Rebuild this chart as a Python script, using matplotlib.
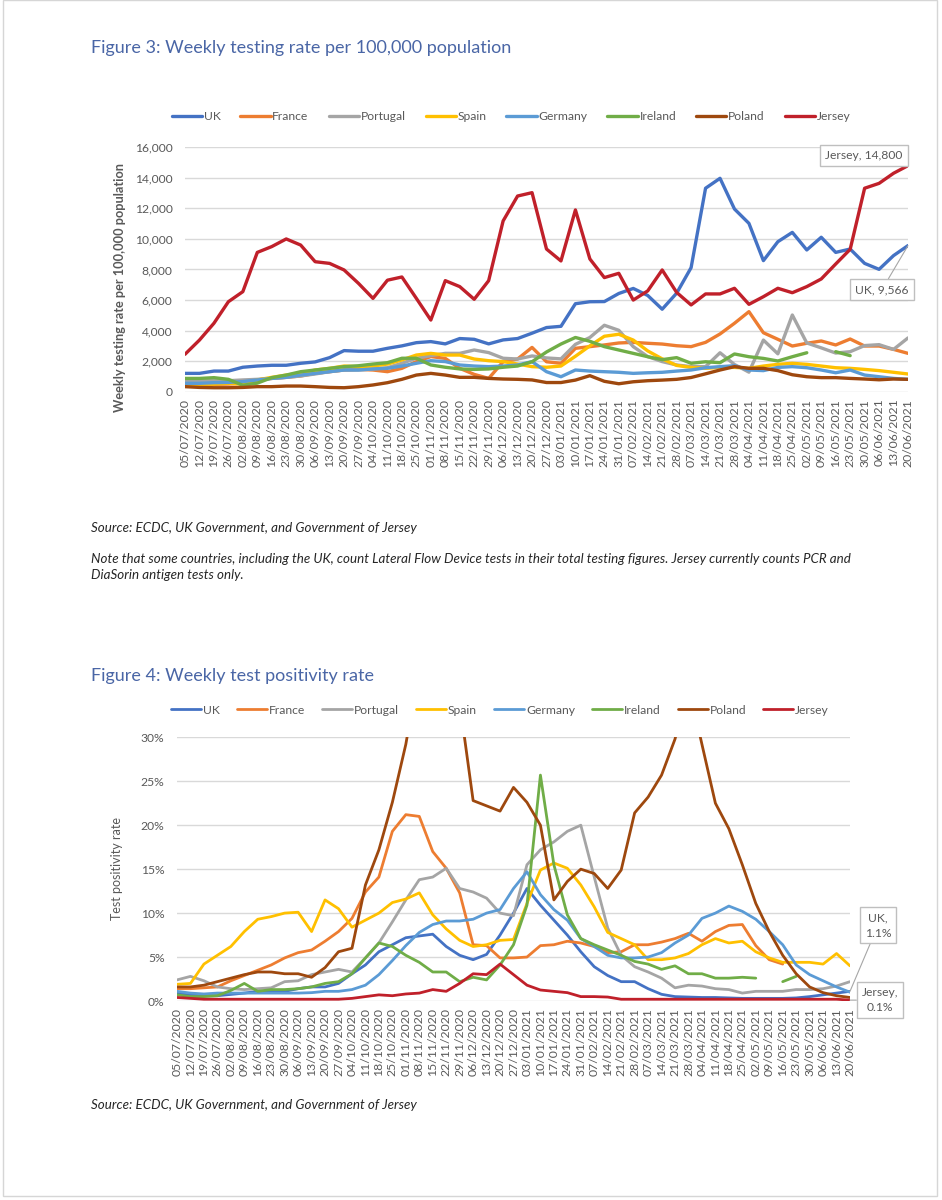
import numpy as np
import matplotlib
matplotlib.use("Agg")
from matplotlib import pyplot as plt
from matplotlib.patches import Rectangle
from matplotlib.ticker import FuncFormatter

W, H = 942, 1200
nan = np.nan

WEEKS = ["05/07/2020", "12/07/2020", "19/07/2020", "26/07/2020", "02/08/2020", "09/08/2020",
         "16/08/2020", "23/08/2020", "30/08/2020", "06/09/2020", "13/09/2020", "20/09/2020",
         "27/09/2020", "04/10/2020", "11/10/2020", "18/10/2020", "25/10/2020", "01/11/2020",
         "08/11/2020", "15/11/2020", "22/11/2020", "29/11/2020", "06/12/2020", "13/12/2020",
         "20/12/2020", "27/12/2020", "03/01/2021", "10/01/2021", "17/01/2021", "24/01/2021",
         "31/01/2021", "07/02/2021", "14/02/2021", "21/02/2021", "28/02/2021", "07/03/2021",
         "14/03/2021", "21/03/2021", "28/03/2021", "04/04/2021", "11/04/2021", "18/04/2021",
         "25/04/2021", "02/05/2021", "09/05/2021", "16/05/2021", "23/05/2021", "30/05/2021",
         "06/06/2021", "13/06/2021", "20/06/2021"]

COUNTRIES = ["UK", "France", "Portugal", "Spain", "Germany", "Ireland", "Poland", "Jersey"]
COLOURS = ["#4472C4", "#ED7D31", "#A5A5A5", "#FFC000", "#5B9BD5", "#70AD47", "#9E480E", "#C0202A"]

# Figure 3: weekly tests per 100,000 population
uk_tests = [1200, 1200, 1350, 1350, 1600, 1680, 1730, 1730, 1860, 1950, 2230, 2690, 2650, 2650,
            2840, 3000, 3210, 3280, 3130, 3480, 3430, 3130, 3390, 3480, 3830, 4200, 4280, 5760,
            5890, 5900, 6430, 6760, 6300, 5400, 6450, 8120, 13320, 13970, 11960, 11020, 8580,
            9820, 10430, 9280, 10110, 9120, 9340, 8400, 8010, 8910, 9566]
france_tests = [440, 440, 480, 500, 550, 770, 870, 940, 1030, 1200, 1310, 1420, 1460, 1420, 1310,
                1530, 1970, 2300, 2180, 1530, 1135, 870, 1960, 2140, 2900, 1960, 1860, 2840, 2950,
                3060, 3190, 3230, 3170, 3120, 3010, 2950, 3230, 3780, 4480, 5240, 3860, 3430, 2990,
                3170, 3320, 3060, 3450, 2990, 2990, 2770, 2510]
portugal_tests = [720, 720, 720, 720, 770, 810, 870, 940, 1030, 1160, 1310, 1420, 1420, 1490, 1570,
                  1860, 2190, 2360, 2510, 2510, 2730, 2560, 2190, 2140, 2340, 2210, 2150, 3100,
                  3550, 4350, 4020, 2950, 2300, 1970, 1750, 1640, 1640, 2550, 1780, 1280, 3380,
                  2480, 5020, 3190, 2870, 2530, 2620, 3020, 3080, 2770, 3520]
spain_tests = [480, 480, 500, 550, 500, 770, 940, 1090, 1200, 1420, 1530, 1680, 1640, 1680, 1810,
               2080, 2400, 2510, 2400, 2400, 2140, 2030, 1970, 1810, 1640, 1600, 1680, 2320, 3000,
               3630, 3760, 3380, 2670, 2150, 1720, 1590, 1530, 1590, 1590, 1530, 1680, 1790, 1860,
               1790, 1680, 1570, 1530, 1460, 1380, 1270, 1160]
germany_tests = [550, 550, 590, 610, 660, 770, 870, 940, 1090, 1200, 1310, 1420, 1420, 1490, 1530,
                 1680, 1860, 2030, 1970, 1750, 1680, 1640, 1680, 1750, 1970, 1310, 980, 1420, 1350,
                 1310, 1270, 1200, 1240, 1270, 1350, 1420, 1570, 1640, 1700, 1420, 1380, 1590, 1640,
                 1570, 1420, 1240, 1420, 1090, 980, 870, 810]
ireland_tests = [870, 870, 920, 810, 420, 560, 920, 1090, 1310, 1420, 1530, 1640, 1700, 1810, 1900,
                 2190, 2190, 1750, 1600, 1490, 1460, 1490, 1600, 1680, 1960, 2600, 3120, 3550, 3300,
                 2950, 2730, 2510, 2290, 2100, 2230, 1860, 1960, 1900, 2470, 2290, 2180, 2010, 2290,
                 2550, nan, 2620, 2360, nan, nan, nan, nan]
poland_tests = [330, 280, 260, 260, 280, 330, 330, 370, 370, 330, 280, 260, 330, 440, 590, 810,
                1090, 1200, 1090, 940, 940, 870, 830, 810, 770, 600, 600, 760, 1050, 680, 520, 650,
                720, 760, 810, 930, 1170, 1420, 1640, 1530, 1530, 1380, 1110, 980, 920, 920, 870,
                830, 780, 830, 810]
jersey_tests = [2450, 3380, 4480, 5890, 6550, 9120, 9500, 10000, 9600, 8510, 8400, 7970, 7090, 6110,
                7300, 7510, 6110, 4690, 7270, 6880, 6050, 7270, 11180, 12810, 13030, 9340, 8560,
                11900, 8690, 7470, 7750, 6000, 6600, 7970, 6500, 5680, 6400, 6400, 6770, 5720, 6220,
                6770, 6480, 6880, 7380, 8360, 9320, 13320, 13640, 14300, 14800]

# Figure 4: weekly test positivity rate (%)
uk_pos = [0.9, 0.7, 0.6, 0.6, 0.75, 0.9, 1.1, 1.1, 1.1, 1.4, 1.6, 1.6, 2.0, 3.1, 4.1, 5.6, 6.4,
          7.2, 7.4, 7.6, 6.2, 5.2, 4.7, 5.3, 7.5, 10.0, 12.8, 10.9, 9.2, 7.5, 5.6, 3.9, 2.9, 2.2,
          2.2, 1.4, 0.76, 0.5, 0.45, 0.4, 0.4, 0.35, 0.3, 0.3, 0.3, 0.3, 0.35, 0.5, 0.7, 0.9, 1.1]
france_pos = [1.4, 1.4, 1.5, 1.6, 2.3, 2.9, 3.5, 4.1, 4.9, 5.5, 5.8, 6.8, 7.9, 9.4, 12.4, 14.1,
              19.3, 21.2, 21.0, 17.0, 15.1, 12.3, 6.4, 6.3, 4.9, 4.9, 5.0, 6.3, 6.4, 6.8, 6.6, 6.2,
              5.5, 5.6, 6.4, 6.4, 6.7, 7.1, 7.7, 6.8, 7.9, 8.6, 8.7, 6.3, 4.7, 4.2,
              nan, nan, nan, nan, nan]
portugal_pos = [2.4, 2.8, 2.3, 1.6, 1.4, 1.3, 1.4, 1.5, 2.2, 2.3, 3.0, 3.3, 3.6, 3.3, 4.9, 6.6,
                9.0, 11.5, 13.8, 14.1, 15.1, 12.8, 12.4, 11.7, 10.0, 9.7, 15.5, 17.2, 18.1, 19.3,
                20.0, 14.1, 8.3, 5.2, 3.9, 3.3, 2.6, 1.5, 1.8, 1.7, 1.4, 1.3, 0.9, 1.1, 1.1, 1.1,
                1.3, 1.3, 1.4, 1.7, 2.2]
spain_pos = [1.9, 2.0, 4.2, 5.2, 6.2, 7.9, 9.3, 9.6, 10.0, 10.1, 7.9, 11.5, 10.5, 8.4, 9.2, 10.0,
             11.2, 11.6, 12.3, 9.8, 8.2, 6.9, 6.2, 6.4, 6.9, 7.0, 11.1, 14.9, 15.7, 15.1, 13.2,
             10.7, 7.8, 7.1, 6.4, 4.7, 4.7, 4.9, 5.4, 6.4, 7.1, 6.6, 6.8, 5.6, 4.9, 4.4, 4.4, 4.4,
             4.2, 5.4, 4.0]
germany_pos = [1.1, 0.9, 0.8, 0.9, 0.9, 0.9, 0.9, 0.9, 0.9, 0.9, 0.95, 1.1, 1.1, 1.3, 1.8, 3.0,
               4.6, 6.3, 7.8, 8.7, 9.1, 9.1, 9.3, 10.0, 10.4, 12.8, 14.7, 12.1, 10.4, 9.2, 7.1, 6.2,
               5.2, 4.9, 4.9, 5.0, 5.5, 6.6, 7.5, 9.4, 10.0, 10.8, 10.2, 9.3, 7.9, 6.4, 4.1, 3.0,
               2.3, 1.6, 1.0]
ireland_pos = [0.7, 0.5, 0.5, 0.6, 1.2, 2.0, 1.1, 1.3, 1.3, 1.4, 1.6, 2.0, 2.2, 3.1, 4.9, 6.6, 6.2,
               5.2, 4.4, 3.3, 3.3, 2.2, 2.7, 2.4, 4.1, 6.4, 10.9, 25.7, 15.5, 9.8, 7.1, 6.4, 5.8,
               5.2, 4.5, 4.2, 3.6, 4.0, 3.1, 3.1, 2.6, 2.6, 2.7, 2.6, nan, 2.2, 2.8,
               nan, nan, nan, nan]
poland_pos = [1.6, 1.6, 1.8, 2.2, 2.6, 3.0, 3.3, 3.3, 3.1, 3.1, 2.7, 3.8, 5.6, 6.0, 13.2, 17.2,
              22.6, 29.2, 38.0, 45.0, 42.0, 34.0, 22.8, 22.2, 21.6, 24.3, 22.6, 20.0, 11.5, 13.6,
              15.0, 14.5, 12.8, 14.9, 21.4, 23.2, 25.7, 29.8, 36.0, 29.2, 22.5, 19.6, 15.5, 11.1,
              7.9, 5.2, 3.1, 1.6, 0.95, 0.6, 0.4]
jersey_pos = [0.4, 0.3, 0.2, 0.2, 0.2, 0.2, 0.2, 0.2, 0.2, 0.2, 0.2, 0.2, 0.2, 0.3, 0.5, 0.7, 0.6,
              0.8, 0.9, 1.3, 1.1, 2.0, 3.1, 3.0, 4.2, 3.0, 1.8, 1.25, 1.1, 0.95, 0.5, 0.5, 0.45,
              0.2, 0.2, 0.2, 0.2, 0.2, 0.2, 0.2, 0.2, 0.2, 0.2, 0.2, 0.2, 0.2, 0.2, 0.2, 0.2, 0.2,
              0.1]

TESTS = [uk_tests, france_tests, portugal_tests, spain_tests, germany_tests, ireland_tests,
         poland_tests, jersey_tests]
POSITIVITY = [uk_pos, france_pos, portugal_pos, spain_pos, germany_pos, ireland_pos,
              poland_pos, jersey_pos]

FONT = "Lato"
GREY = "#595959"
TITLE_BLUE = "#4A66A6"


def fx(px):
    return px / W


def fy(py):
    return 1 - py / H


def draw_panel(fig, left, top, right, bottom, series, ymax, ystep, fmt, lw):
    ax = fig.add_axes([fx(left), fy(bottom), (right - left) / W, (bottom - top) / H])
    x = np.arange(len(WEEKS))
    lines = []
    for name, colour, values in zip(COUNTRIES, COLOURS, series):
        line, = ax.plot(x, values, color=colour, lw=lw, label=name,
                        solid_joinstyle="round", solid_capstyle="round")
        lines.append(line)

    ax.set_xlim(0, len(WEEKS) - 1)
    ax.set_ylim(0, ymax)
    ax.set_yticks(np.arange(0, ymax + ystep / 2, ystep))
    ax.yaxis.set_major_formatter(FuncFormatter(fmt))
    ax.set_xticks(x)
    ax.set_xticklabels(WEEKS, rotation=90, fontsize=8.8, color=GREY, family=FONT)
    for lab in ax.get_yticklabels():
        lab.set_fontsize(8.7)
        lab.set_color(GREY)
        lab.set_family(FONT)
    ax.tick_params(axis="x", length=0, pad=5)
    ax.tick_params(axis="y", length=0, pad=9)
    ax.grid(axis="y", color="#D9D9D9", lw=1)
    ax.set_axisbelow(True)
    for spine in ax.spines.values():
        spine.set_visible(False)
    return ax, lines


def add_legend(fig, lines, cx, cy, spacing):
    fig.legend(handles=lines, loc="center", bbox_to_anchor=(fx(cx), fy(cy)), ncol=8,
               frameon=False, handlelength=2.5, handletextpad=0.15, columnspacing=spacing,
               prop={"family": FONT, "size": 8.7}, labelcolor=GREY)


def callout(ax, text, x, y, dx, dy, leader=True):
    props = dict(arrowstyle="-", color="#A6A6A6", lw=0.8, shrinkA=0, shrinkB=0) if leader else None
    ax.annotate(text, xy=(x, y), xytext=(dx, dy), textcoords="offset pixels",
                ha="center", va="center", fontsize=8.7, color=GREY, family=FONT,
                linespacing=1.5, annotation_clip=False, arrowprops=props,
                bbox=dict(boxstyle="square,pad=0.4", fc="white", ec="#BFBFBF", lw=1))


fig = plt.figure(figsize=(W / 100, H / 100), dpi=100)

# page edge of the scanned document
fig.add_artist(Rectangle((fx(3), fy(1196)), fx(934), (1196) / H, transform=fig.transFigure,
                         fill=False, ec="#D6D6D6", lw=1))

# ---- Figure 3 ----
fig.text(fx(91), fy(48), "Figure 3: Weekly testing rate per 100,000 population",
         fontsize=13, color=TITLE_BLUE, family=FONT, va="center")
ax1, lines1 = draw_panel(fig, 185, 147.3, 908, 391.7, TESTS, 16000, 2000,
                         lambda v, p: f"{v:,.0f}", 2.4)
add_legend(fig, lines1, 511, 117, 1.65)
fig.text(fx(120), fy(287), "Weekly testing rate per 100,000 population", rotation=90,
         ha="center", va="center", fontsize=9.2, fontweight="bold", color=GREY, family=FONT)
last = len(WEEKS) - 1
callout(ax1, "Jersey, 14,800", last, jersey_tests[-1], -44, 10, leader=False)
callout(ax1, f"UK, {uk_tests[-1]:,}", last, uk_tests[-1], -26, -44)

fig.text(fx(91), fy(528), "Source: ECDC, UK Government, and Government of Jersey",
         fontsize=9.6, style="italic", color="#262626", family=FONT, va="center")
fig.text(fx(91), fy(567),
         "Note that some countries, including the UK, count Lateral Flow Device tests in their "
         "total testing figures. Jersey currently counts PCR and\nDiaSorin antigen tests only.",
         fontsize=9.6, style="italic", color="#262626", family=FONT, va="center", linespacing=1.45)

# ---- Figure 4 ----
fig.text(fx(91), fy(676), "Figure 4: Weekly test positivity rate",
         fontsize=13, color=TITLE_BLUE, family=FONT, va="center")
ax2, lines2 = draw_panel(fig, 177, 737.3, 850, 1001, POSITIVITY, 30, 5,
                         lambda v, p: f"{v:.0f}%", 2.0)
add_legend(fig, lines2, 500, 710, 1.4)
fig.text(fx(117), fy(869), "Test positivity rate", rotation=90, ha="center", va="center",
         fontsize=9, color=GREY, family=FONT)
callout(ax2, "UK,\n1.1%", last, uk_pos[-1], 28, 66)
callout(ax2, "Jersey,\n0.1%", last, jersey_pos[-1], 30, 0)

fig.text(fx(91), fy(1105), "Source: ECDC, UK Government, and Government of Jersey",
         fontsize=9.6, style="italic", color="#262626", family=FONT, va="center")

fig.savefig("out.png", dpi=100, facecolor="white")
